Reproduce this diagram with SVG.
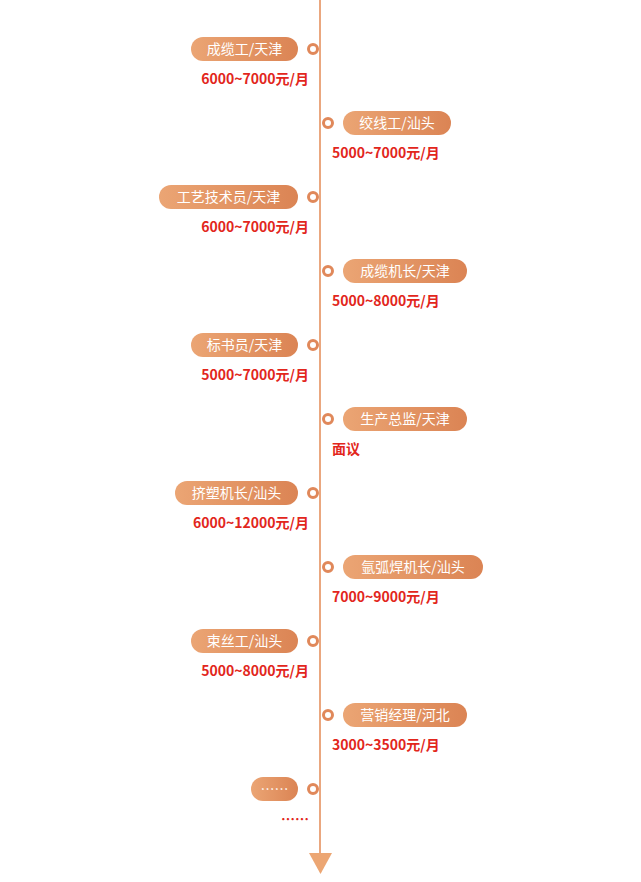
<svg xmlns="http://www.w3.org/2000/svg" width="641" height="882" viewBox="0 0 641 882">
<defs>
<linearGradient id="g" x1="0" y1="0" x2="1" y2="0"><stop offset="0" stop-color="#eba574"/><stop offset="1" stop-color="#db8454"/></linearGradient>
<style>
.p{fill:url(#g)}
.d{fill:#fff;stroke:#e0885a;stroke-width:3}
.t{font-family:"Noto Sans CJK SC",sans-serif;font-size:14px;fill:#fff}
.s{font-family:"Noto Sans CJK SC",sans-serif;font-size:14px;font-weight:bold;fill:#e2261c}
.l{text-anchor:end}
</style>
</defs>
<g id="connectors">
<line x1="320" y1="0" x2="320" y2="853" stroke="#e38a55" stroke-width="1.5"/>
<polygon points="309,853 332,853 320.5,874" fill="#eca673"/>
</g>
<g id="n1"><rect class="p" x="191" y="37" width="107" height="24" rx="12"/><text class="t" x="244.5" y="54" text-anchor="middle">成缆工/天津</text><circle class="d" cx="313" cy="49" r="4.5"/><text class="s l" x="309" y="84">6000~7000元/月</text></g>
<g id="n2"><rect class="p" x="343" y="111" width="108" height="24" rx="12"/><text class="t" x="397" y="128" text-anchor="middle">绞线工/汕头</text><circle class="d" cx="328" cy="123" r="4.5"/><text class="s" x="332" y="158">5000~7000元/月</text></g>
<g id="n3"><rect class="p" x="159" y="185" width="139" height="24" rx="12"/><text class="t" x="228.5" y="202" text-anchor="middle">工艺技术员/天津</text><circle class="d" cx="313" cy="197" r="4.5"/><text class="s l" x="309" y="232">6000~7000元/月</text></g>
<g id="n4"><rect class="p" x="343" y="259" width="124" height="24" rx="12"/><text class="t" x="405" y="276" text-anchor="middle">成缆机长/天津</text><circle class="d" cx="328" cy="271" r="4.5"/><text class="s" x="332" y="306">5000~8000元/月</text></g>
<g id="n5"><rect class="p" x="191" y="333" width="107" height="24" rx="12"/><text class="t" x="244.5" y="350" text-anchor="middle">标书员/天津</text><circle class="d" cx="313" cy="345" r="4.5"/><text class="s l" x="309" y="380">5000~7000元/月</text></g>
<g id="n6"><rect class="p" x="343" y="407" width="124" height="24" rx="12"/><text class="t" x="405" y="424" text-anchor="middle">生产总监/天津</text><circle class="d" cx="328" cy="419" r="4.5"/><text class="s" x="332" y="454">面议</text></g>
<g id="n7"><rect class="p" x="175" y="481" width="123" height="24" rx="12"/><text class="t" x="236.5" y="498" text-anchor="middle">挤塑机长/汕头</text><circle class="d" cx="313" cy="493" r="4.5"/><text class="s l" x="309" y="528">6000~12000元/月</text></g>
<g id="n8"><rect class="p" x="343" y="555" width="140" height="24" rx="12"/><text class="t" x="413" y="572" text-anchor="middle">氩弧焊机长/汕头</text><circle class="d" cx="328" cy="567" r="4.5"/><text class="s" x="332" y="602">7000~9000元/月</text></g>
<g id="n9"><rect class="p" x="191" y="629" width="107" height="24" rx="12"/><text class="t" x="244.5" y="646" text-anchor="middle">束丝工/汕头</text><circle class="d" cx="313" cy="641" r="4.5"/><text class="s l" x="309" y="676">5000~8000元/月</text></g>
<g id="n10"><rect class="p" x="343" y="703" width="124" height="24" rx="12"/><text class="t" x="405" y="720" text-anchor="middle">营销经理/河北</text><circle class="d" cx="328" cy="715" r="4.5"/><text class="s" x="332" y="750">3000~3500元/月</text></g>
<g id="n11"><rect class="p" x="251" y="777" width="47" height="24" rx="12"/><text class="t" x="274.5" y="794" text-anchor="middle">……</text><circle class="d" cx="313" cy="789" r="4.5"/><text class="s l" x="309" y="824">……</text></g>
</svg>
